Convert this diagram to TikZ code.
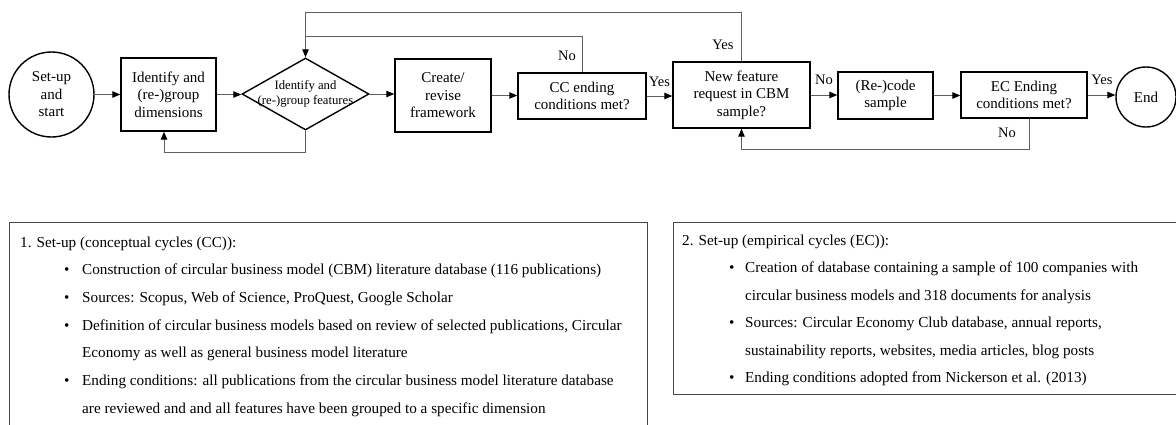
\documentclass[tikz,border=0pt]{standalone}
\usepackage{fontspec}
\setmainfont{Liberation Serif}
\usetikzlibrary{arrows.meta,shapes.geometric}
\definecolor{linegray}{RGB}{95,95,95}
\definecolor{framegray}{RGB}{70,70,70}
\newcommand{\flowfont}{\fontsize{15}{17.5}\selectfont}
\newcommand{\diafont}{\fontsize{12.7}{15}\selectfont}
\newcommand{\bodyfont}{\fontsize{15.2}{18}\selectfont}
\newcommand{\labfont}{\fontsize{14.5}{16}\selectfont}

\begin{document}
\begin{tikzpicture}[x=1pt,y=-1pt,
  box/.style={draw=black, line width=1.4pt, align=center, inner sep=0pt, font=\flowfont},
  term/.style={circle, draw=black, line width=1.4pt, align=center, inner sep=0pt, font=\flowfont},
  dia/.style={diamond, draw=black, line width=1.4pt, inner sep=0pt, minimum width=127pt, minimum height=72pt},
  diatext/.style={align=center, inner sep=0pt, font=\diafont},
  conn/.style={draw=linegray, line width=1pt},
  arr/.style={conn, -{Triangle[length=8pt,width=6.5pt,color=black]}},
  lab/.style={inner sep=0pt, font=\labfont},
  panel/.style={draw=framegray, line width=1.3pt, inner sep=0pt, anchor=north west},
  line/.style={anchor=base west, inner sep=0pt, font=\bodyfont},
  dot/.style={anchor=base west, inner sep=0pt, font=\bodyfont}
]
\useasboundingbox (0,0) rectangle (1176,424);

% ---- process chain ----
\node[term, minimum size=85pt] (start) at (51.5,94.5) {Set-up\\and\\start};
\node[box, minimum width=95pt, minimum height=73pt] (dims) at (168.5,94.5) {Identify and\\(re-)group\\dimensions};
\node[dia] (feat) at (305.5,94) {};
\node[diatext] (feattext) at (305.5,93.5) {Identify and\\(re-)group features};
\node[box, minimum width=96pt, minimum height=73pt] (frame) at (443,95.5) {Create/\\revise\\framework};
\node[box, minimum width=128pt, minimum height=46pt] (ccend) at (582,96) {CC ending\\conditions met?};
\node[box, minimum width=137pt, minimum height=66pt] (newf) at (741.5,95) {New feature\\request in CBM\\sample?};
\node[box, minimum width=95pt, minimum height=47pt] (recode) at (885.5,95.5) {(Re-)code\\sample};
\node[box, minimum width=126pt, minimum height=46pt] (ecend) at (1024,95) {EC Ending\\conditions met?};
\node[term, minimum size=60pt] (stop) at (1146,97) {End};

% forward arrows
\draw[arr] (start.east) -- (start.east -| dims.west);
\draw[arr] (dims.east) -- (dims.east -| feat.west);
\draw[arr] (feat.east) -- (feat.east -| frame.west);
\draw[arr] (frame.east) -- (frame.east -| ccend.west);
\draw[arr] (ccend.east) -- (ccend.east -| newf.west);
\draw[arr] (newf.east) -- (newf.east -| recode.west);
\draw[arr] (recode.east) -- (recode.east -| ecend.west);
\draw[arr] (ecend.east) -- (ecend.east -| stop.west);

% feedback loops
\coordinate (topjoin) at (305.5,12);
\coordinate (midjoin) at (305.5,36);
\draw[arr] (feat.south) -- (305.5,152) -| ([xshift=-4.5pt]dims.south);
\draw[arr] (newf.north) |- (topjoin) -- (feat.north);
\draw[conn] (ccend.north) |- (midjoin);
\draw[arr] ([xshift=5pt]ecend.south) |- (741.5,149) -- (newf.south);

% branch labels
\node[lab] (no1) at (567,56) {No};
\node[lab] (yes1) at (723,45) {Yes};
\node[lab] (yes2) at (659.5,82) {Yes};
\node[lab] (no2) at (824,80) {No};
\node[lab] (yes3) at (1102,80) {Yes};
\node[lab] (no3) at (1007,133) {No};

% ---- description panels ----
\node[panel, minimum width=637.5pt, minimum height=212pt] (cc) at (9,222) {};
\node[panel, minimum width=510pt, minimum height=172pt] (ec) at (673,222) {};

\node[line] (c0) at (20,247) {1. Set-up (conceptual cycles (CC)):};
\node[dot] (cb1) at (64,274.7) {\textbullet};
\node[line] (c1) at (82,274.7) {Construction of circular business model (CBM) literature database (116 publications)};
\node[dot] (cb2) at (64,302.4) {\textbullet};
\node[line] (c2) at (82,302.4) {Sources: Scopus, Web of Science, ProQuest, Google Scholar};
\node[dot] (cb3) at (64,330.1) {\textbullet};
\node[line] (c3) at (82,330.1) {Definition of circular business models based on review of selected publications, Circular};
\node[line] (c3b) at (82,357.8) {Economy as well as general business model literature};
\node[dot] (cb4) at (64,385.5) {\textbullet};
\node[line] (c4) at (82,385.5) {Ending conditions: all publications from the circular business model literature database};
\node[line] (c4b) at (82,413.2) {are reviewed and and all features have been grouped to a specific dimension};

\node[line] (e0) at (682,245) {2. Set-up (empirical cycles (EC)):};
\node[dot] (eb1) at (729,272.5) {\textbullet};
\node[line] (e1) at (745,272.5) {Creation of database containing a sample of 100 companies with};
\node[line] (e1b) at (745,300) {circular business models and 318 documents for analysis};
\node[dot] (eb2) at (729,327.5) {\textbullet};
\node[line] (e2) at (745,327.5) {Sources: Circular Economy Club database, annual reports,};
\node[line] (e2b) at (745,355) {sustainability reports, websites, media articles, blog posts};
\node[dot] (eb3) at (729,382.5) {\textbullet};
\node[line] (e3) at (745,382.5) {Ending conditions adopted from Nickerson et al. (2013)};
\end{tikzpicture}
\end{document}
